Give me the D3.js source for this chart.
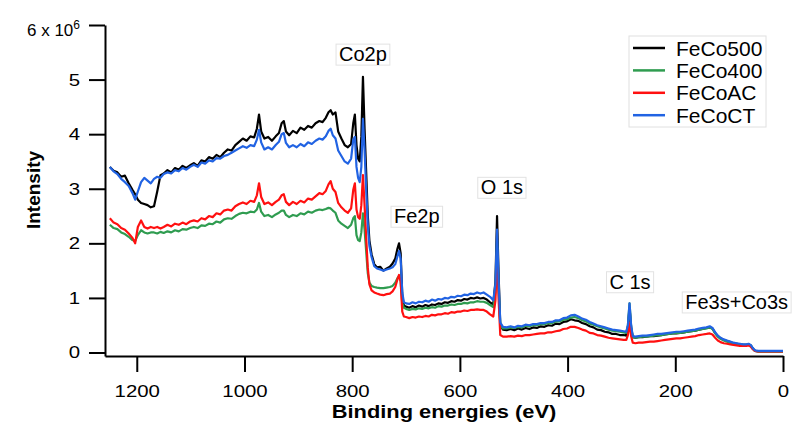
<!DOCTYPE html>
<html>
<head>
<meta charset="utf-8">
<script src="https://cdn.jsdelivr.net/npm/d3@7"></script>
<style>
  html, body { margin: 0; padding: 0; background: #fff; }
  svg { display: block; font-family: "Liberation Sans", Arial, Helvetica, sans-serif; }
</style>
</head>
<body>
<svg id="chart" width="797" height="431"></svg>
<script>
// Binding-energy grid (eV), shared by all four survey spectra
const energies = [
  1250,1243,1236,1229,1222,1215,1208,1203,1198,1192,1186,1180,1174,1168,1162,1156,1150,
  1143,1136,1129,1122,1115,1108,1101,1094,1087,1080,1073,1066,1059,1052,1045,1038,1031,1024,1017,1010,1003,
  996,989,982,977,973,969,963,956,949,942,936,931,927,923,917,910,903,896,889,882,875,868,861,855,849,844,840,836,831,826,820,814,808,802,
  798,795,792,789,786,783,780,777,774,771,768,764,759,754,748,742,736,730,725,720,716,713,710,707,704,
  700,694,688,682,676,670,664,658,652,646,640,634,628,622,616,610,604,598,592,586,580,574,568,562,556,550,544,538,534,531,528,525,520,
  513,506,499,492,485,478,471,464,457,450,443,436,429,422,415,408,401,394,387,380,373,366,359,352,345,338,331,324,317,310,303,296,291,288,285,282,279,
  274,268,261,254,247,240,233,226,219,212,205,198,191,184,177,170,163,156,149,142,136,131,126,121,116,110,104,98,92,86,80,74,68,64,60,56,52,46,40,34,28,22,16,10,4,0
];

// Intensities in units of 10^6 counts
const feCo500 = [
  3.40,3.33,3.30,3.22,3.24,3.10,2.98,2.90,2.80,2.74,2.72,2.70,2.66,2.68,2.95,3.25,3.28,
  3.34,3.30,3.38,3.35,3.42,3.38,3.43,3.47,3.42,3.52,3.50,3.58,3.55,3.62,3.58,3.66,3.72,3.70,3.80,3.86,3.92,
  3.88,3.96,3.94,4.10,4.36,4.05,3.92,3.95,3.88,3.96,4.02,4.20,4.24,4.05,3.98,4.06,4.02,4.12,4.08,4.15,4.12,4.20,4.24,4.22,4.30,4.40,4.44,4.36,4.40,4.05,3.92,3.80,3.76,3.82,
  4.20,4.36,3.80,3.55,3.50,3.95,5.05,4.10,3.30,2.50,2.05,1.80,1.62,1.56,1.57,1.50,1.54,1.57,1.63,1.72,1.90,2.00,1.82,1.05,0.86,
  0.84,0.82,0.85,0.83,0.86,0.84,0.87,0.85,0.88,0.87,0.90,0.89,0.92,0.91,0.94,0.93,0.96,0.95,0.98,0.97,1.00,0.99,1.01,0.99,1.00,0.97,0.92,0.88,1.30,2.50,1.40,0.50,0.42,
  0.41,0.43,0.41,0.44,0.42,0.45,0.43,0.46,0.45,0.48,0.47,0.50,0.49,0.53,0.52,0.56,0.57,0.61,0.59,0.58,0.54,0.52,0.48,0.46,0.42,0.41,0.38,0.37,0.34,0.34,0.32,0.32,0.31,0.45,0.82,0.45,0.28,
  0.27,0.28,0.28,0.29,0.30,0.30,0.31,0.32,0.33,0.34,0.35,0.35,0.36,0.37,0.38,0.39,0.40,0.42,0.43,0.45,0.46,0.44,0.36,0.30,0.26,0.23,0.21,0.19,0.17,0.16,0.15,0.14,0.14,0.15,0.13,0.07,0.03,0.02,0.02,0.02,0.02,0.02,0.02,0.02,0.02,0.02
];
const feCo400 = [
  2.34,2.28,2.26,2.20,2.17,2.12,2.06,2.04,2.15,2.24,2.20,2.18,2.20,2.20,2.18,2.21,2.19,
  2.22,2.20,2.24,2.22,2.26,2.25,2.28,2.30,2.28,2.33,2.32,2.36,2.35,2.40,2.38,2.44,2.46,2.45,2.50,2.54,2.56,
  2.55,2.58,2.57,2.62,2.74,2.58,2.50,2.52,2.48,2.53,2.56,2.60,2.60,2.52,2.48,2.52,2.50,2.55,2.53,2.58,2.56,2.60,2.62,2.61,2.63,2.65,2.64,2.60,2.56,2.42,2.36,2.32,2.28,2.34,
  2.46,2.50,2.15,2.06,2.04,2.20,2.55,2.25,1.85,1.45,1.28,1.22,1.20,1.19,1.18,1.18,1.19,1.20,1.22,1.28,1.36,1.40,1.30,0.90,0.82,
  0.80,0.78,0.80,0.79,0.81,0.80,0.82,0.81,0.83,0.82,0.85,0.84,0.86,0.86,0.88,0.87,0.89,0.89,0.91,0.90,0.92,0.92,0.94,0.93,0.93,0.91,0.87,0.83,1.10,2.05,1.15,0.50,0.44,
  0.44,0.46,0.45,0.47,0.46,0.49,0.48,0.50,0.50,0.52,0.52,0.54,0.54,0.57,0.57,0.60,0.61,0.64,0.65,0.63,0.59,0.57,0.53,0.51,0.48,0.46,0.44,0.42,0.40,0.39,0.38,0.37,0.36,0.50,0.90,0.48,0.28,
  0.27,0.28,0.29,0.29,0.30,0.31,0.32,0.32,0.33,0.34,0.35,0.36,0.36,0.37,0.38,0.39,0.40,0.42,0.43,0.44,0.46,0.43,0.35,0.29,0.25,0.22,0.20,0.18,0.17,0.16,0.15,0.14,0.14,0.15,0.13,0.07,0.03,0.02,0.02,0.02,0.02,0.02,0.02,0.02,0.02,0.02
];
const feCoAC = [
  2.46,2.38,2.35,2.28,2.25,2.18,2.10,2.00,2.30,2.42,2.30,2.27,2.30,2.28,2.30,2.27,2.30,
  2.34,2.31,2.36,2.34,2.38,2.35,2.40,2.42,2.40,2.46,2.44,2.50,2.48,2.55,2.53,2.60,2.62,2.60,2.68,2.72,2.75,
  2.72,2.78,2.76,2.88,3.10,2.85,2.72,2.75,2.70,2.76,2.80,2.88,2.90,2.76,2.70,2.76,2.72,2.78,2.75,2.82,2.80,2.86,2.92,2.90,2.96,3.08,3.14,3.00,2.94,2.74,2.66,2.60,2.56,2.64,
  2.98,3.10,2.62,2.48,2.45,2.70,3.25,2.70,2.10,1.55,1.25,1.14,1.10,1.08,1.06,1.05,1.07,1.08,1.12,1.20,1.34,1.42,1.30,0.75,0.66,
  0.65,0.63,0.65,0.64,0.66,0.65,0.67,0.66,0.69,0.68,0.70,0.70,0.72,0.71,0.74,0.73,0.75,0.75,0.77,0.76,0.78,0.78,0.79,0.78,0.78,0.75,0.70,0.66,0.95,1.85,0.95,0.32,0.29,
  0.29,0.30,0.29,0.31,0.30,0.32,0.32,0.33,0.34,0.35,0.35,0.37,0.37,0.39,0.40,0.43,0.44,0.47,0.47,0.45,0.42,0.40,0.36,0.35,0.32,0.31,0.29,0.27,0.26,0.25,0.24,0.23,0.23,0.32,0.55,0.30,0.18,
  0.17,0.18,0.18,0.19,0.20,0.20,0.21,0.22,0.23,0.24,0.25,0.26,0.26,0.27,0.28,0.29,0.30,0.32,0.33,0.34,0.35,0.33,0.27,0.22,0.19,0.17,0.16,0.15,0.14,0.13,0.12,0.12,0.12,0.13,0.11,0.06,0.03,0.02,0.02,0.02,0.02,0.02,0.02,0.02,0.02,0.02
];
const feCoCT = [
  3.40,3.32,3.27,3.18,3.12,3.05,2.92,2.80,2.95,3.12,3.20,3.15,3.10,3.18,3.22,3.20,3.27,
  3.30,3.28,3.34,3.32,3.38,3.35,3.40,3.44,3.40,3.48,3.46,3.52,3.50,3.56,3.55,3.60,3.62,3.66,3.70,3.74,3.78,
  3.75,3.80,3.78,3.90,4.08,3.85,3.72,3.76,3.72,3.80,3.86,4.00,4.02,3.84,3.76,3.80,3.76,3.82,3.78,3.85,3.82,3.88,3.92,3.90,3.96,4.06,4.10,3.98,3.92,3.70,3.60,3.50,3.46,3.55,
  3.90,3.95,3.40,3.20,3.12,3.40,4.28,3.70,3.00,2.35,1.95,1.75,1.58,1.54,1.52,1.50,1.52,1.54,1.56,1.62,1.76,1.86,1.72,1.10,0.92,
  0.90,0.89,0.92,0.90,0.93,0.92,0.95,0.93,0.97,0.95,0.98,0.97,1.00,0.99,1.02,1.01,1.04,1.03,1.06,1.05,1.08,1.07,1.10,1.08,1.10,1.06,1.02,0.96,1.25,2.25,1.30,0.55,0.47,
  0.46,0.48,0.46,0.49,0.48,0.51,0.50,0.52,0.52,0.54,0.54,0.56,0.56,0.59,0.59,0.63,0.64,0.68,0.69,0.66,0.62,0.60,0.56,0.53,0.50,0.48,0.46,0.44,0.42,0.41,0.40,0.39,0.38,0.50,0.90,0.50,0.30,
  0.29,0.30,0.31,0.31,0.32,0.33,0.34,0.34,0.35,0.36,0.37,0.38,0.38,0.39,0.40,0.41,0.42,0.44,0.45,0.46,0.48,0.45,0.37,0.31,0.27,0.24,0.22,0.20,0.18,0.17,0.16,0.15,0.15,0.16,0.14,0.08,0.04,0.03,0.03,0.03,0.03,0.03,0.03,0.03,0.03,0.03
];

const seriesNames = ["FeCo500", "FeCo400", "FeCoAC", "FeCoCT"];
const seriesColors = ["#000000", "#2f9c50", "#ff1010", "#2163e3"];
const xTicks = [1200, 1000, 800, 600, 400, 200, 0];
const yTicks = [0, 1, 2, 3, 4, 5, 6];

// Peak assignments: label, label centre (eV, 10^6 counts)
const peakLabels = ["Co2p", "Fe2p", "O 1s", "C 1s", "Fe3s+Co3s"];
const peakLabelE = [780, 680, 522, 284, 86];
const peakLabelI = [5.47, 2.50, 3.03, 1.30, 0.93];

const series = [feCo500, feCo400, feCoAC, feCoCT].map((vals, i) => ({
  name: seriesNames[i],
  color: seriesColors[i],
  points: energies.map((e, j) => [e, vals[j]])
}));

const svg = d3.select("#chart");
const x = d3.scaleLinear().domain([1259, 0]).range([105, 783]);
const y = d3.scaleLinear().domain([-0.064, 6]).range([356, 25]);

// Axis lettering is slightly wide: stretch glyphs horizontally
const tickStretch = 1.2;

// Spectra
const line = d3.line().x(d => x(d[0])).y(d => y(d[1]));
svg.append("g").selectAll("path")
  .data(series)
  .join("path")
  .attr("d", d => line(d.points))
  .attr("fill", "none")
  .attr("stroke", d => d.color)
  .attr("stroke-width", 2.2)
  .attr("stroke-linejoin", "round");

// Axes
const xAxis = d3.axisBottom(x).tickValues(xTicks).tickSize(16).tickSizeOuter(0).tickPadding(13)
  .tickFormat(d3.format("d"));
const yAxis = d3.axisLeft(y).tickValues(yTicks).tickSize(16).tickSizeOuter(0).tickPadding(9)
  .tickFormat(d3.format("d"));

const gx = svg.append("g").attr("transform", "translate(0,356)").call(xAxis);
const gy = svg.append("g").attr("transform", "translate(105,0)").call(yAxis);

[gx, gy].forEach(g => {
  g.selectAll("path.domain").attr("stroke", "#000").attr("stroke-width", 2);
  g.selectAll(".tick line").attr("stroke", "#000").attr("stroke-width", 2);
  g.selectAll(".tick text").attr("fill", "#000").attr("font-size", 17)
    .attr("font-family", "'Liberation Sans', Arial, sans-serif")
    .attr("transform", `scale(${tickStretch},1)`);
});
gy.selectAll(".tick text").attr("x", -25 / tickStretch);

// Top y tick carries the scale factor: 6 x 10^6
gy.selectAll(".tick text").filter(d => d === 6).each(function () {
  const t = d3.select(this).text("")
    .attr("transform", null).attr("x", -25)
    .attr("font-size", 17).attr("dy", "0.64em");
  t.append("tspan").text("6 x 10");
  t.append("tspan").attr("dy", "-0.6em").attr("font-size", 12).text("6");
});

// Axis titles
svg.append("text")
  .attr("transform", "translate(444,418) scale(1.15,1)")
  .attr("text-anchor", "middle")
  .attr("font-size", 19).attr("font-weight", "bold")
  .text("Binding energies (eV)");
svg.append("text")
  .attr("transform", "translate(40,190) rotate(-90)")
  .attr("text-anchor", "middle")
  .attr("font-size", 19).attr("font-weight", "bold")
  .text("Intensity");

// Peak labels in light boxes
peakLabels.forEach((lab, i) => {
  const g = svg.append("g");
  const t = g.append("text")
    .attr("x", x(peakLabelE[i])).attr("y", y(peakLabelI[i]))
    .attr("dy", "0.36em")
    .attr("text-anchor", "middle")
    .attr("font-size", 20)
    .text(lab);
  const b = t.node().getBBox();
  g.insert("rect", "text")
    .attr("x", b.x - 3).attr("y", b.y + 1)
    .attr("width", b.width + 6).attr("height", b.height - 1)
    .attr("fill", "#fff").attr("stroke", "#e2e2e2").attr("stroke-width", 1);
});

// Legend
const leg = svg.append("g");
leg.append("rect")
  .attr("x", 629).attr("y", 36).attr("width", 137).attr("height", 91)
  .attr("fill", "#fff").attr("stroke", "#e0e0e0").attr("stroke-width", 1);
series.forEach((s, i) => {
  const ly = 48 + i * 22.4;
  leg.append("line")
    .attr("x1", 633).attr("x2", 665).attr("y1", ly).attr("y2", ly)
    .attr("stroke", s.color).attr("stroke-width", 2.5);
  leg.append("text")
    .attr("x", 676).attr("y", ly).attr("dy", "0.36em")
    .attr("font-size", 21)
    .text(s.name);
});
</script>
</body>
</html>
